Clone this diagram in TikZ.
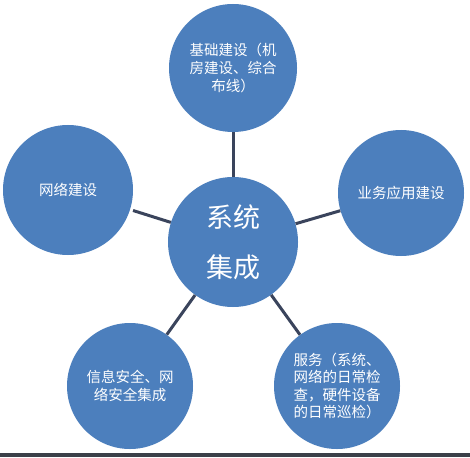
\documentclass[tikz,border=0pt]{standalone}
\usepackage{fontspec}
\newfontfamily\cjk{Noto Sans CJK SC}
\definecolor{bubble}{RGB}{76,127,189}
\definecolor{link}{RGB}{58,68,92}
\definecolor{bar}{RGB}{59,64,73}
\begin{document}
\begin{tikzpicture}[x=1pt,y=-1pt,
  bub/.style={circle,fill=bubble,inner sep=0pt,minimum size=#1,text=white,align=center,
    font=\cjk\fontsize{14.5}{17.6}\selectfont},
  bub/.default=128pt,
  conn/.style={draw=link,line width=3pt}]
\useasboundingbox[fill=white] (0,0) rectangle (470,457);
\fill[bar] (0,453) rectangle (470,457);
\node[bub=130pt,font=\cjk\fontsize{27}{50}\selectfont] (c) at (233,242) {系统\\集成};
\node[bub] (t) at (233,68) {基础建设（机\\房建设、综合\\布线）};
\node[bub=130pt] (l) at (68,190) {网络建设};
\node[bub=126pt] (r) at (401,193) {业务应用建设};
\node[bub=126pt] (bl) at (130,386) {信息安全、网\\络安全集成};
\node[bub=126pt] (br) at (337,386) {服务（系统、\\网络的日常检\\查，硬件设备\\的日常巡检）};
\draw[conn] (t) -- (c);
\draw[conn,shorten <=3pt] (l) -- (c);
\draw[conn] (r) -- (c);
\draw[conn] (bl) -- (c);
\draw[conn] (br) -- (c);
\end{tikzpicture}
\end{document}
